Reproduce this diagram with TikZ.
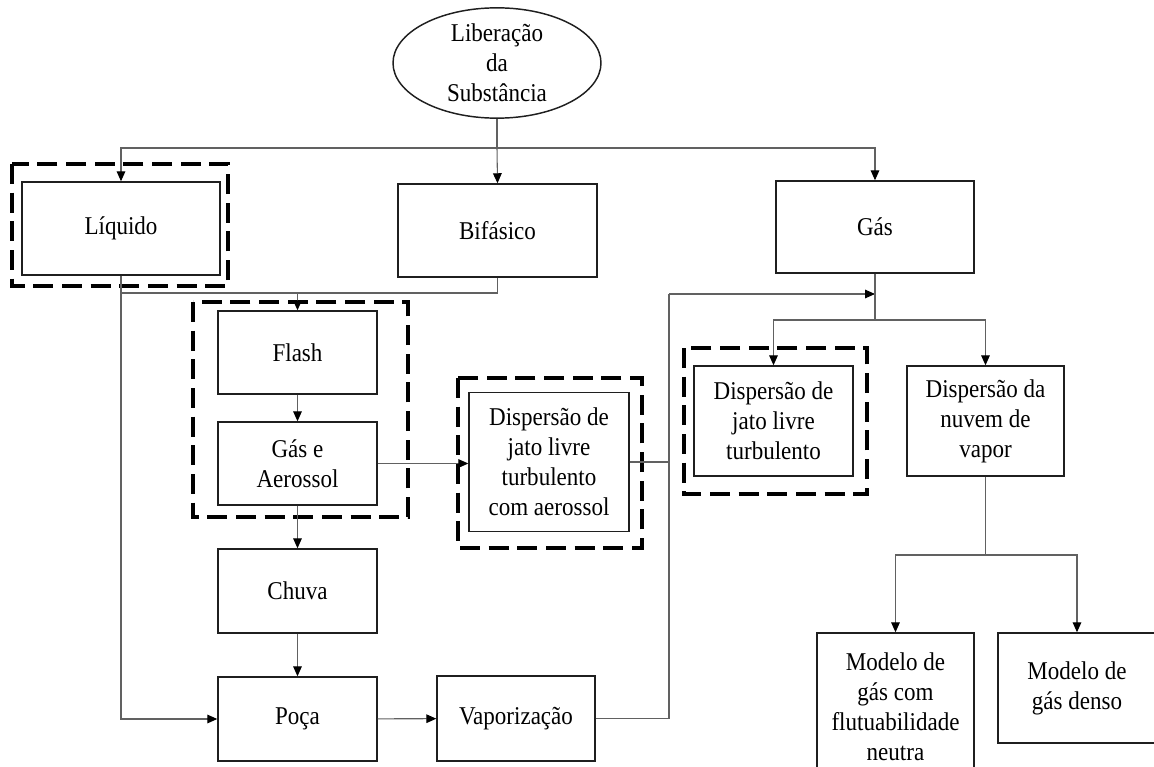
\documentclass[tikz,border=0pt]{standalone}
\usepackage{fontspec}
\setmainfont{Liberation Serif}[FakeStretch=0.9]
\usetikzlibrary{arrows.meta,shapes.geometric}
\begin{document}
\begin{tikzpicture}[x=0.75pt,y=-0.75pt,
  txt/.style={align=center,font=\fontsize{19.2}{22.5}\selectfont},
  box/.style={txt,draw=black!88,line width=1.1pt,rectangle,inner sep=0pt},
  wh/.style 2 args={minimum width={#1*0.75pt},minimum height={#2*0.75pt}},
  conn/.style={draw=black!62,line width=0.8pt},
  arr/.style={conn,-{Triangle[length=7.5pt,width=6.5pt,fill=black,color=black]}},
  frame/.style={draw=black,line width=3pt,dash pattern=on 15pt off 6.5pt}]

\useasboundingbox (0,0) rectangle (1154,767);

% dashed groupings
\draw[frame] (12,164) rectangle (228,286);
\draw[frame] (193,302) rectangle (408,517);
\draw[frame] (458,378) rectangle (642,548);
\draw[frame] (684,348) rectangle (867,494);

% nodes
\node[txt,ellipse,draw=black!88,line width=1.1pt,inner sep=0pt,wh={208}{105}] (lib) at (497,63) {Liberação\\da\\Substância};
\node[box,wh={198}{93}] (liq) at (121,228.5) {Líquido};
\node[box,wh={199}{93}] (bif) at (497.5,230.5) {Bifásico};
\node[box,wh={198}{92}] (gas) at (875,227) {Gás};
\node[box,wh={159}{83}] (flash) at (297.5,352.5) {Flash};
\node[box,wh={159}{83}] (gea) at (297.5,463.5) {Gás e\\Aerossol};
\node[box,wh={159}{84}] (chuva) at (297.5,591) {Chuva};
\node[box,wh={159}{84}] (poca) at (297.5,719) {Poça};
\node[box,wh={158}{85}] (vap) at (516,718.5) {Vaporização};
\node[box,wh={160}{139}] (jaer) at (549,462) {Dispersão de\\jato livre\\turbulento\\com aerossol};
\node[box,wh={159}{110}] (jat) at (773.5,421) {Dispersão de\\jato livre\\turbulento};
\node[box,wh={157}{110}] (nuv) at (985.5,421) {Dispersão da\\nuvem de\\vapor};
\node[box,wh={157}{148}] (mneu) at (895.5,707) {Modelo de\\gás com\\flutuabilidade\\neutra};
\node[box,wh={158}{110}] (mden) at (1077,688) {Modelo de\\gás denso};

% junction points
\coordinate (bus) at (497,148);
\coordinate (mergeA) at (297.5,293);
\coordinate (riser) at (669,294);
\coordinate (gasjoin) at (875,294);
\coordinate (gassplit) at (875,320);
\coordinate (nuvsplit) at (985.5,555);

% connectors
\draw[conn] (lib) -- (bus);
\draw[arr] (bus) -| (liq.north);
\draw[arr] (bus) -- (bif.north);
\draw[arr] (bus) -| (gas.north);

\draw[arr] (liq.south) |- (mergeA) -- (flash.north);
\draw[conn] (bif.south) |- (mergeA);
\draw[arr] (liq.south) |- (poca.west);

\draw[arr] (flash) -- (gea);
\draw[arr] (gea) -- (chuva);
\draw[arr] (chuva) -- (poca);
\draw[arr] (poca) -- (vap);
\draw[arr] (gea.east) -- (jaer.west |- gea.east);

\draw[conn] (jaer.east) -| (riser);
\draw[conn] (vap.east) -| (riser);
\draw[arr] (riser) -- (gasjoin);

\draw[conn] (gas.south) -- (gassplit);
\draw[arr] (gassplit) -| (jat.north);
\draw[arr] (gassplit) -| (nuv.north);

\draw[conn] (nuv.south) -- (nuvsplit);
\draw[arr] (nuvsplit) -| (mneu.north);
\draw[arr] (nuvsplit) -| (mden.north);
\end{tikzpicture}
\end{document}
